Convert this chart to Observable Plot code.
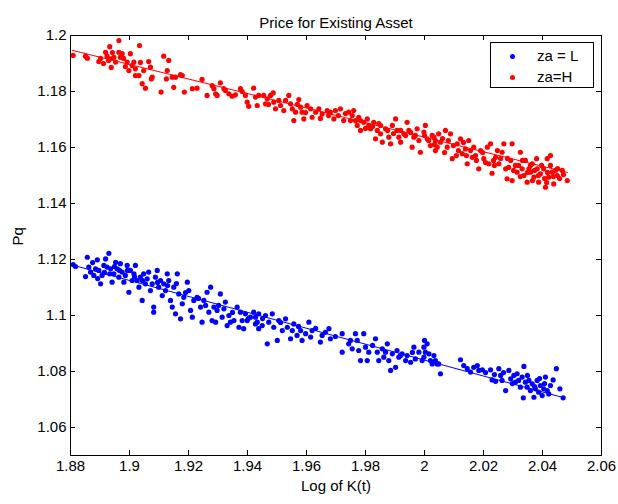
<!DOCTYPE html>
<html><head><meta charset="utf-8">
<script src="https://cdn.jsdelivr.net/npm/d3@7"></script>
<script src="https://cdn.jsdelivr.net/npm/@observablehq/plot@0.6"></script>
<style>
body{margin:0;background:#fff;}
#wrap{position:relative;width:618px;height:504px;font-family:Arial,"Liberation Sans",sans-serif;}
#legend{position:absolute;left:490px;top:42px;width:104px;height:46px;box-sizing:border-box;border:1px solid #000;background:#fff;font-size:15px;color:#000;}
.row{position:absolute;left:0;height:20px;line-height:20px;width:100%;}
.dot{position:absolute;left:19px;top:7.5px;width:5px;height:5px;border-radius:50%;}
.lab{position:absolute;left:46px;top:0;white-space:pre;}
</style></head>
<body><div id="wrap"></div>
<script>
const title = "Price for Existing Asset";
const xLabel = "Log of K(t)";
const yLabel = "Pq";
const xTicks = [1.88,1.9,1.92,1.94,1.96,1.98,2,2.02,2.04,2.06];
const yTicks = [1.06,1.08,1.1,1.12,1.14,1.16,1.18,1.2];
const seriesNames = ["za = L","za=H"];
const seriesColors = ["#0000ff","#ff0000"];

const redPoints = [
[1.8809,1.1929],[1.8851,1.1926],[1.8857,1.1919],[1.8896,1.1907],[1.8919,1.1940],[1.8924,1.1926],[1.8933,1.1960],[1.8936,1.1917],[1.8938,1.1886],[1.8947,1.1922],[1.8953,1.1905],[1.8964,1.1982],[1.8964,1.1940],[1.8969,1.1922],[1.8975,1.1935],[1.8992,1.1905],[1.8998,1.1875],[1.9003,1.1935],[1.9009,1.1893],[1.9015,1.1905],[1.9020,1.1881],[1.9034,1.1964],[1.9032,1.1857],[1.9043,1.1828],[1.9048,1.1875],[1.9054,1.1812],[1.9065,1.1907],[1.9071,1.1887],[1.9077,1.1851],[1.9074,1.1845],[1.9107,1.1798],[1.9116,1.1926],[1.9128,1.1875],[1.9133,1.1911],[1.9125,1.1845],[1.9145,1.1851],[1.9150,1.1815],[1.9156,1.1851],[1.9173,1.1860],[1.9179,1.1857],[1.9186,1.1798],[1.9213,1.1810],[1.9229,1.1812],[1.9246,1.1843],[1.9263,1.1786],[1.9280,1.1821],[1.9286,1.1810],[1.9292,1.1792],[1.9297,1.1786],[1.9308,1.1831],[1.9320,1.1810],[1.9325,1.1804],[1.9337,1.1792],[1.9348,1.1783],[1.9359,1.1788],[1.9376,1.1810],[1.9382,1.1800],[1.9393,1.1786],[1.9399,1.1762],[1.9404,1.1747],[1.9421,1.1812],[1.9427,1.1780],[1.9433,1.1750],[1.9438,1.1786],
[1.9455,1.1786],[1.9461,1.1756],[1.9467,1.1774],[1.9487,1.1795],[1.9489,1.1762],[1.9495,1.1738],[1.9506,1.1768],[1.9512,1.1750],[1.9523,1.1732],[1.9540,1.1786],[1.9546,1.1756],[1.9552,1.1738],[1.9557,1.1696],[1.9563,1.1726],[1.9574,1.1771],[1.9580,1.1744],[1.9585,1.1726],[1.9591,1.1702],[1.9602,1.1750],[1.9614,1.1738],[1.9619,1.1708],[1.9631,1.1726],[1.9642,1.1738],[1.9653,1.1720],[1.9670,1.1732],[1.9681,1.1726],[1.9693,1.1702],[1.9698,1.1732],[1.9715,1.1738],[1.9726,1.1696],[1.9743,1.1726],[1.9755,1.1714],[1.9760,1.1732],[1.9766,1.1696],[1.9772,1.1679],[1.9777,1.1708],[1.9783,1.1661],[1.9794,1.1690],[1.9806,1.1702],[1.9811,1.1679],[1.9817,1.1667],[1.9828,1.1690],[1.9834,1.1631],[1.9840,1.1661],[1.9845,1.1685],[1.9851,1.1649],[1.9857,1.1619],[1.9868,1.1667],[1.9879,1.1637],[1.9885,1.1613],[1.9891,1.1679],[1.9902,1.1702],[1.9907,1.1661],[1.9913,1.1637],[1.9919,1.1619],[1.9930,1.1649],[1.9941,1.1690],[1.9947,1.1661],[1.9958,1.1601],[1.9964,1.1637],[1.9975,1.1667],[1.9981,1.1625],[1.9986,1.1583],[1.9998,1.1655],[2.0003,1.1679],[2.0009,1.1631],[2.0020,1.1607],[2.0026,1.1643],[2.0037,1.1625],[2.0043,1.1601],[2.0048,1.1649],
[2.0032,1.1637],[2.0037,1.1589],[2.0054,1.1619],[2.0071,1.1661],[2.0077,1.1601],[2.0088,1.1649],[2.0094,1.1560],[2.0111,1.1613],[2.0122,1.1631],[2.0128,1.1578],[2.0139,1.1595],[2.0145,1.1542],[2.0150,1.1625],[2.0162,1.1565],[2.0167,1.1601],[2.0184,1.1524],[2.0190,1.1589],[2.0201,1.1560],[2.0213,1.1601],[2.0218,1.1542],[2.0224,1.1613],[2.0229,1.1508],[2.0241,1.1565],[2.0252,1.1542],[2.0263,1.1583],[2.0269,1.1613],[2.0275,1.1524],[2.0280,1.1488],[2.0292,1.1554],[2.0297,1.1613],[2.0297,1.1482],[2.0308,1.1536],[2.0314,1.1512],[2.0325,1.1583],[2.0331,1.1524],[2.0337,1.1500],[2.0342,1.1554],[2.0348,1.1476],[2.0354,1.1524],[2.0359,1.1512],[2.0365,1.1542],[2.0371,1.1494],[2.0380,1.1560],[2.0382,1.1524],[2.0387,1.1476],[2.0393,1.1506],[2.0404,1.1524],[2.0410,1.1458],[2.0416,1.1560],[2.0421,1.1494],[2.0427,1.1571],[2.0433,1.1512],[2.0438,1.1470],[2.0444,1.1518],[2.0450,1.1500],[2.0467,1.1518],[2.0484,1.1482],
[2.0061,1.1632],[2.0081,1.1625],[2.0098,1.1607],[2.0115,1.1589],[2.0132,1.1618],[2.0156,1.1589],[2.0173,1.1571],[2.0197,1.1582],[2.0207,1.1546],[2.0234,1.1554],[2.0247,1.1589],[2.0258,1.1561],[2.0281,1.1561],[2.0302,1.1518],[2.0319,1.1536],[2.0332,1.1554],[2.0349,1.1511],[2.0359,1.1536],[2.0373,1.1518],[2.0386,1.1500],[2.0397,1.1536],[2.0407,1.1489],[2.0417,1.1511],[2.0427,1.1536],[2.0437,1.1496],[2.0451,1.1525],[2.0458,1.1489],[2.0471,1.1504],[2.0414,1.1475],[2.0366,1.1482],[2.0325,1.1496],[2.0285,1.1529],[2.0237,1.1536],[2.0176,1.1554],[2.0142,1.1571],[2.0108,1.1571],[2.0068,1.1582],[2.0034,1.1611],[2.0014,1.1625],[2.0000,1.1643],
[1.9647,1.1704],[1.9675,1.1714],[1.9708,1.1714],[1.9732,1.1721],[1.9749,1.1696],[1.9783,1.1696],[1.9800,1.1668],[1.9824,1.1675],[1.9851,1.1679],[1.9875,1.1661],[1.9895,1.1650],[1.9919,1.1661],[1.9936,1.1643],[1.9953,1.1654],[1.9969,1.1643],[1.9597,1.1725],[1.9569,1.1754],[1.9529,1.1768],[1.9478,1.1786],[1.9471,1.1754],
[1.8902,1.1918],[1.8912,1.1900],[1.8929,1.1911],[1.8942,1.1939],[1.8980,1.1918],[1.8986,1.1889],[1.9020,1.1857],[1.9037,1.1904]
];

const bluePoints = [
[1.8809,1.1182],[1.8817,1.1175],[1.8851,1.1139],[1.8857,1.1208],[1.8862,1.1173],[1.8868,1.1155],[1.8879,1.1143],[1.8885,1.1167],[1.8891,1.1199],[1.8896,1.1161],[1.8902,1.1113],[1.8907,1.1143],[1.8913,1.1179],[1.8919,1.1202],[1.8924,1.1173],[1.8930,1.1222],[1.8933,1.1149],[1.8936,1.1167],[1.8941,1.1119],[1.8947,1.1149],[1.8953,1.1190],[1.8958,1.1167],[1.8964,1.1137],[1.8969,1.1185],[1.8975,1.1155],[1.8981,1.1119],[1.8986,1.1143],[1.8992,1.1179],[1.8998,1.1083],[1.9003,1.1161],[1.9009,1.1125],[1.9015,1.1149],[1.9020,1.1179],[1.9026,1.1125],[1.9032,1.1101],[1.9037,1.1137],[1.9043,1.1054],[1.9048,1.1149],[1.9054,1.1113],[1.9060,1.1131],[1.9065,1.1155],[1.9071,1.1089],[1.9077,1.1113],[1.9082,1.1030],[1.9082,1.1012],[1.9088,1.1137],[1.9094,1.1161],[1.9099,1.1101],[1.9105,1.1125],[1.9111,1.1071],[1.9116,1.1113],[1.9122,1.1089],[1.9128,1.1149],[1.9133,1.1125],[1.9139,1.1054],[1.9145,1.1030],[1.9150,1.1101],[1.9156,1.1006],[1.9162,1.1149],[1.9167,1.1077],[1.9173,1.0988],[1.9179,1.1042],[1.9184,1.1065],[1.9196,1.1119],[1.9201,1.1089],[1.9207,1.1018],[1.9213,1.0994],[1.9218,1.1054],[1.9229,1.1065],[1.9241,1.1030],[1.9246,1.0976],[1.9252,1.1054],[1.9263,1.1083],[1.9269,1.1012],[1.9275,1.1101],[1.9280,1.0982],[1.9286,1.1030],[1.9292,1.0976],[1.9297,1.1018],[1.9308,1.1077],[1.9314,1.0994],[1.9320,1.1024],[1.9325,1.1048],[1.9331,1.0964],[1.9337,1.1000],[1.9342,1.0976],[1.9354,1.0982],[1.9365,1.1030],[1.9371,1.0958],[1.9376,1.1012],[1.9382,1.0982],[1.9387,1.0953],[1.9393,1.1006],[1.9399,1.0982],[1.9410,1.0994],[1.9421,1.1012],[1.9427,1.0970],[1.9438,1.0953],
[1.9427,1.0994],[1.9433,1.0976],[1.9438,1.1006],[1.9450,1.0964],[1.9461,1.1000],[1.9467,1.0899],[1.9472,1.0976],[1.9484,1.1006],[1.9489,1.0958],[1.9501,1.0911],[1.9506,1.0982],[1.9518,1.0946],[1.9529,1.0988],[1.9535,1.0958],[1.9546,1.0917],[1.9552,1.0946],[1.9557,1.0970],[1.9568,1.0929],[1.9580,1.0946],[1.9585,1.0911],[1.9597,1.0935],[1.9608,1.0976],[1.9614,1.0923],[1.9619,1.0946],[1.9647,1.0905],[1.9653,1.0929],[1.9664,1.0940],[1.9676,1.0953],[1.9681,1.0917],[1.9721,1.0935],[1.9721,1.0869],[1.9743,1.0899],[1.9755,1.0881],[1.9766,1.0935],[1.9772,1.0911],[1.9777,1.0875],[1.9783,1.0839],[1.9794,1.0935],[1.9800,1.0887],[1.9806,1.0839],[1.9811,1.0869],[1.9834,1.0917],[1.9840,1.0869],[1.9845,1.0839],[1.9857,1.0881],[1.9862,1.0851],[1.9868,1.0869],[1.9874,1.0899],[1.9879,1.0839],[1.9885,1.0804],[1.9891,1.0863],[1.9902,1.0815],[1.9907,1.0875],[1.9913,1.0851],[1.9924,1.0863],[1.9936,1.0839],[1.9941,1.0857],[1.9953,1.0833],[1.9964,1.0887],[1.9969,1.0845],[1.9981,1.0869],[1.9992,1.0839],[1.9998,1.0851],[2.0009,1.0899],[2.0015,1.0863],[2.0026,1.0827],[2.0037,1.0839],[2.0048,1.0827],[2.0054,1.0792],
[1.9998,1.0887],[2.0003,1.0869],[2.0000,1.0911],[2.0020,1.0839],[2.0032,1.0857],[2.0043,1.0827],[2.0122,1.0842],[2.0133,1.0821],[2.0145,1.0810],[2.0156,1.0798],[2.0167,1.0815],[2.0179,1.0821],[2.0184,1.0804],[2.0196,1.0806],[2.0224,1.0806],[2.0229,1.0770],[2.0241,1.0765],[2.0252,1.0810],[2.0258,1.0786],[2.0263,1.0768],[2.0275,1.0732],[2.0286,1.0804],[2.0292,1.0774],[2.0303,1.0786],[2.0308,1.0762],[2.0314,1.0792],[2.0325,1.0744],[2.0331,1.0780],[2.0337,1.0818],[2.0335,1.0706],[2.0342,1.0762],[2.0348,1.0744],[2.0354,1.0768],[2.0359,1.0732],[2.0365,1.0756],[2.0371,1.0708],[2.0376,1.0738],[2.0382,1.0768],[2.0387,1.0726],[2.0393,1.0750],[2.0399,1.0714],[2.0404,1.0738],[2.0410,1.0780],[2.0416,1.0732],[2.0421,1.0720],[2.0436,1.0770],[2.0447,1.0810],[2.0459,1.0738],[2.0470,1.0706],
[2.0207,1.0796],[2.0237,1.0789],[2.0268,1.0796],[2.0298,1.0757],[2.0319,1.0768],[2.0349,1.0786],[2.0373,1.0746],[2.0390,1.0775],[2.0407,1.0757],[2.0427,1.0750],
[1.8875,1.1189],[1.8892,1.1132],[1.8915,1.1154],[1.8949,1.1175],[1.8966,1.1161],[1.8993,1.1161],[1.9017,1.1139],[1.9044,1.1125],[1.9095,1.1118],[1.9129,1.1107],[1.9159,1.1114],[1.9190,1.1082],[1.9234,1.1061],[1.9258,1.1036],[1.9302,1.1036],[1.9349,1.1011],[1.9403,1.0989],[1.9451,1.0989],[1.9512,1.0975],[1.9573,1.0961],[1.9631,1.0954],[1.9698,1.0925],[1.9749,1.0911],[1.9824,1.0893],[1.9919,1.0857],[1.9959,1.0868]
];

const redFit = [[1.8806,1.1947],[2.0484,1.1511]];
const blueFit = [[1.8800,1.1182],[2.0470,1.0707]];

const fmt = d3.format("~g");
const font = 'Arial, "Liberation Sans", sans-serif';

const chart = Plot.plot({
  width: 618, height: 504,
  marginLeft: 70, marginRight: 17, marginTop: 35, marginBottom: 49,
  style: {fontFamily: font, fontSize: "15px", background: "#fff", color: "#000", overflow: "visible"},
  x: {domain: [1.88, 2.06]},
  y: {domain: [1.05, 1.2]},
  marks: [
    Plot.line(blueFit, {x: d => d[0], y: d => d[1], stroke: seriesColors[0], strokeWidth: 1}),
    Plot.line(redFit, {x: d => d[0], y: d => d[1], stroke: seriesColors[1], strokeWidth: 1}),
    Plot.dot(bluePoints, {x: d => d[0], y: d => d[1], r: 2.6, fill: seriesColors[0], stroke: "none"}),
    Plot.dot(redPoints, {x: d => d[0], y: d => d[1], r: 2.6, fill: seriesColors[1], stroke: "none"}),
    Plot.tickX(xTicks, {x: d => d, stroke: "#000", insetTop: 415}),
    Plot.tickX(xTicks, {x: d => d, stroke: "#000", insetBottom: 415}),
    Plot.tickY(yTicks, {y: d => d, stroke: "#000", insetRight: 526}),
    Plot.tickY(yTicks, {y: d => d, stroke: "#000", insetLeft: 526}),
    Plot.frame({stroke: "#000"}),
    Plot.axisX(xTicks, {anchor: "bottom", tickSize: 0, tickPadding: 5, tickFormat: fmt, label: null, fontSize: 15}),
    Plot.axisY(yTicks, {anchor: "left", tickSize: 0, tickPadding: 4, tickFormat: fmt, label: null, fontSize: 15}),
    Plot.text([title], {frameAnchor: "top", dy: -18, fontSize: 15, fill: "#000"}),
    Plot.text([xLabel], {frameAnchor: "bottom", dy: 35, fontSize: 15, fill: "#000"}),
    Plot.text([yLabel], {frameAnchor: "left", dx: -52, rotate: -90, fontSize: 15, fill: "#000"})
  ]
});
const wrap = document.getElementById("wrap");
wrap.appendChild(chart);

const legend = document.createElement("div");
legend.id = "legend";
seriesNames.forEach((name, i) => {
  const row = document.createElement("div");
  row.className = "row";
  row.style.top = (3 + i * 21) + "px";
  const dot = document.createElement("span");
  dot.className = "dot";
  dot.style.background = seriesColors[i];
  const lab = document.createElement("span");
  lab.className = "lab";
  lab.textContent = name;
  row.appendChild(dot); row.appendChild(lab);
  legend.appendChild(row);
});
wrap.appendChild(legend);
</script>
</body></html>
